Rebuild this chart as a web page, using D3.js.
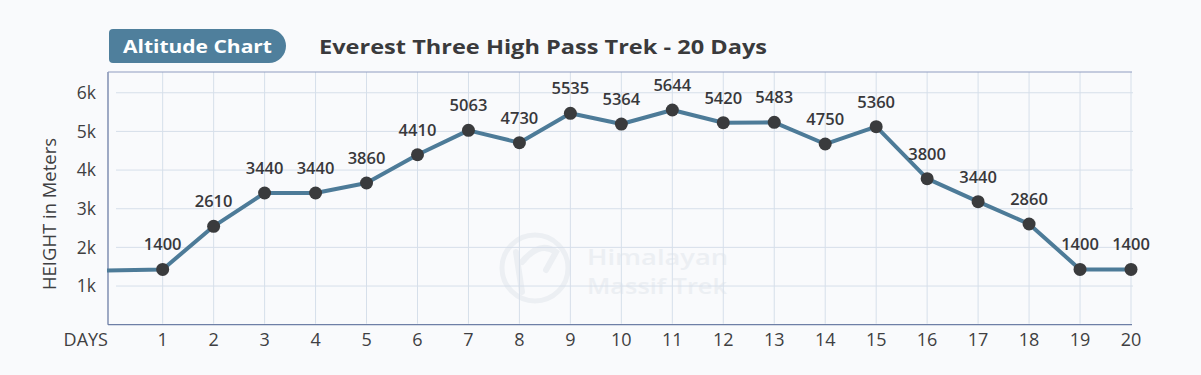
<!DOCTYPE html>
<html>
<head>
<meta charset="utf-8">
<script src="https://cdn.jsdelivr.net/npm/d3@7"></script>
<style>
  html, body { margin: 0; padding: 0; background: #f9fafc; }
  svg { display: block; }
  text { font-family: "Open Sans", "DejaVu Sans", sans-serif; }
</style>
</head>
<body>
<svg id="chart" width="1201" height="375"></svg>
<script>
// ---- data ----
const days = [1, 2, 3, 4, 5, 6, 7, 8, 9, 10, 11, 12, 13, 14, 15, 16, 17, 18, 19, 20];
// plotted heights
const heights = [1430, 2545, 3407, 3407, 3666, 4397, 5028, 4708, 5468, 5191, 5554, 5225, 5235, 4674, 5122, 3777, 3182, 2605, 1430, 1430];
// value labels printed above markers
const labels = ["1400", "2610", "3440", "3440", "3860", "4410", "5063", "4730", "5535", "5364", "5644", "5420", "5483", "4750", "5360", "3800", "3440", "2860", "1400", "1400"];
const startHeight = 1400;
const yTickValues = [1000, 2000, 3000, 4000, 5000, 6000];
const yTickLabels = ["1k", "2k", "3k", "4k", "5k", "6k"];
const chartTitle = "Everest Three High Pass Trek - 20 Days";
const badgeText = "Altitude Chart";
const yTitle = "HEIGHT in Meters";
const xTitle = "DAYS";
const watermarkLines = ["Himalayan", "Massif Trek"];

// ---- layout ----
const svg = d3.select("#chart");
const plotLeft = 108, plotRight = 1131, plotTop = 72, plotBottom = 324.7;

const x = d3.scaleLinear().domain([0, 20]).range([111.7, 1131]);
const y = d3.scaleLinear().domain([0, 6550]).range([plotBottom, 71.5]);

// watermark
const wm = svg.append("g");
wm.append("circle").attr("cx", 535).attr("cy", 268).attr("r", 33)
  .attr("fill", "none").attr("stroke", "#eceff3").attr("stroke-width", 5);
wm.append("path").attr("d", "M516,252 L522,292 M522,262 Q540,240 556,252 L546,270")
  .attr("fill", "none").attr("stroke", "#eceff3").attr("stroke-width", 6).attr("stroke-linecap", "round");
wm.selectAll("text.wm").data(watermarkLines).join("text")
  .attr("x", 587).attr("y", (d, i) => 265 + i * 29)
  .attr("font-size", 22).attr("font-weight", 600)
  .attr("fill", "#eceff3")
  .attr("textLength", (d, i) => i === 0 ? 141 : 140).attr("lengthAdjust", "spacingAndGlyphs")
  .text(d => d);

// gridlines
const grid = svg.append("g");
grid.selectAll("line.h").data(yTickValues).join("line")
  .attr("x1", 116).attr("x2", plotRight + 2)
  .attr("y1", d => y(d)).attr("y2", d => y(d))
  .attr("stroke", "#d6dfea").attr("stroke-width", 1);
grid.selectAll("line.v").data(days).join("line")
  .attr("x1", d => x(d)).attr("x2", d => x(d))
  .attr("y1", plotTop).attr("y2", plotBottom - 1)
  .attr("stroke", "#d6dfea").attr("stroke-width", 1);

// frame: left, bottom, top
svg.append("line").attr("x1", plotLeft).attr("x2", plotLeft).attr("y1", plotTop).attr("y2", plotBottom)
  .attr("stroke", "#6e7fa6").attr("stroke-width", 1.3);
svg.append("line").attr("x1", plotLeft).attr("x2", plotRight + 1).attr("y1", plotBottom).attr("y2", plotBottom)
  .attr("stroke", "#6e7fa6").attr("stroke-width", 1.3);
svg.append("line").attr("x1", plotLeft).attr("x2", plotRight + 1).attr("y1", plotTop).attr("y2", plotTop)
  .attr("stroke", "#8f9cc0").attr("stroke-width", 1.2);

// y tick labels
svg.append("g").selectAll("text").data(yTickValues).join("text")
  .attr("x", 96).attr("y", d => y(d)).attr("dy", "0.36em")
  .attr("text-anchor", "end").attr("font-size", 17.5).attr("fill", "#3f3f42")
  .text((d, i) => yTickLabels[i]);

// x tick labels
svg.append("g").selectAll("text").data(days).join("text")
  .attr("x", d => x(d)).attr("y", 346)
  .attr("text-anchor", "middle").attr("font-size", 18).attr("fill", "#3f3f42")
  .text(d => d);
svg.append("text").attr("x", plotLeft).attr("y", 346).attr("text-anchor", "end")
  .attr("font-size", 18).attr("fill", "#3f3f42").text(xTitle);

// y title
svg.append("text").attr("transform", "translate(56,214) rotate(-90)")
  .attr("text-anchor", "middle").attr("font-size", 18).attr("fill", "#3f3f42")
  .attr("textLength", 152).attr("lengthAdjust", "spacingAndGlyphs")
  .text(yTitle);

// line
const pts = [{ d: x.invert(plotLeft - 1), v: startHeight }].concat(days.map((d, i) => ({ d, v: heights[i] })));
svg.append("path").datum(pts)
  .attr("d", d3.line().x(p => x(p.d)).y(p => y(p.v)))
  .attr("fill", "none").attr("stroke", "#4d7b98").attr("stroke-width", 4)
  .attr("stroke-linejoin", "round");

// markers
svg.append("g").selectAll("circle").data(days).join("circle")
  .attr("cx", d => x(d)).attr("cy", (d, i) => y(heights[i])).attr("r", 6.5)
  .attr("fill", "#3a3b3d");

// value labels
svg.append("g").selectAll("text").data(days).join("text")
  .attr("x", d => x(d)).attr("y", (d, i) => y(heights[i]) - 19)
  .attr("text-anchor", "middle").attr("font-size", 16.5).attr("font-weight", 600)
  .attr("fill", "#38383b")
  .text((d, i) => labels[i]);

// badge
svg.append("path")
  .attr("d", "M113,29 H269 A17,17 0 0 1 269,63 H113 A4,4 0 0 1 109,59 V33 A4,4 0 0 1 113,29 Z")
  .attr("fill", "#4f7f9c");
svg.append("text").attr("x", 123).attr("y", 46.5).attr("dy", "0.36em")
  .attr("font-size", 18).attr("font-weight", 700).attr("fill", "#ffffff")
  .attr("textLength", 149).attr("lengthAdjust", "spacingAndGlyphs")
  .text(badgeText);

// title
svg.append("text").attr("x", 319).attr("y", 46.5).attr("dy", "0.36em")
  .attr("font-size", 20).attr("font-weight", 700).attr("fill", "#3a3a3c")
  .attr("textLength", 448).attr("lengthAdjust", "spacingAndGlyphs")
  .text(chartTitle);
</script>
</body>
</html>
